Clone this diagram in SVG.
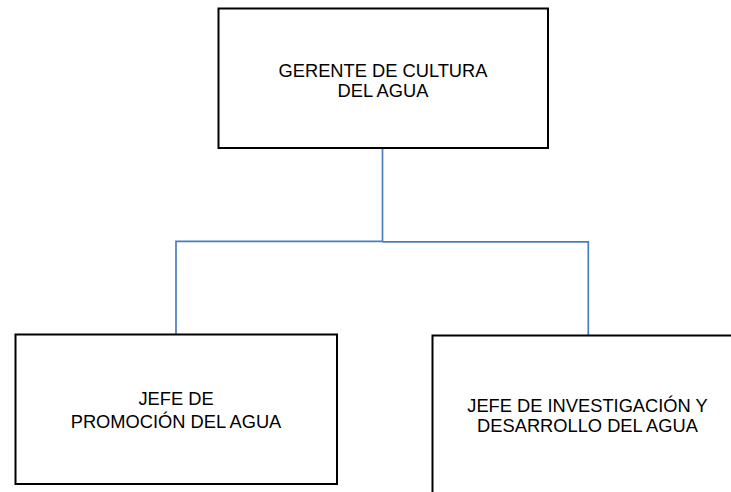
<svg xmlns="http://www.w3.org/2000/svg" width="731" height="492" viewBox="0 0 731 492">
<style>
.box{fill:#ffffff;stroke:#000000;stroke-width:2}
.conn{fill:none;stroke:#4A7EBB;stroke-width:1.7}
text{font-family:"Liberation Sans",Arial,sans-serif;font-size:18.3px;fill:#000000;text-anchor:middle}
</style>
<rect width="731" height="492" fill="#ffffff"/>
<g id="connectors">
<path class="conn" d="M382.5,148 V241.5 M176,334 V241.3 H382.5 M382.5,241.8 H588.3 V335"/>
</g>
<g id="gerente">
<rect class="box" x="218.5" y="8.5" width="329.5" height="139.5"/>
<text x="383" y="77">GERENTE DE CULTURA</text>
<text x="383" y="97">DEL AGUA</text>
</g>
<g id="promocion">
<rect class="box" x="15.5" y="334.5" width="321.5" height="149.5"/>
<text x="176" y="405">JEFE DE</text>
<text x="176" y="427.5">PROMOCIÓN DEL AGUA</text>
</g>
<g id="investigacion">
<rect class="box" x="432.5" y="335.5" width="310" height="170"/>
<text x="587.5" y="411.5">JEFE DE INVESTIGACIÓN Y</text>
<text x="587.5" y="431.5">DESARROLLO DEL AGUA</text>
</g>
</svg>
